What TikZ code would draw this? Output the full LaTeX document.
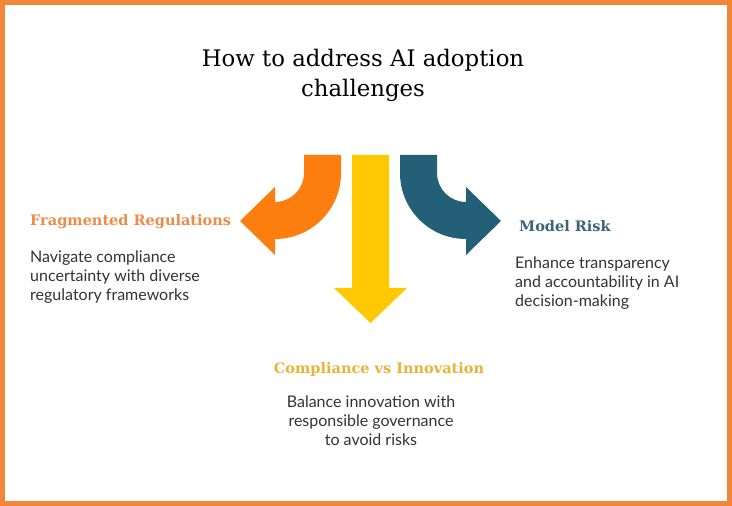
\documentclass[tikz,border=0pt]{standalone}
\usepackage{fontspec}
\setmainfont{DejaVu Serif}
\newfontfamily\bodyfont{Lato}
\usetikzlibrary{positioning}

\definecolor{frameorange}{HTML}{F2873A}
\definecolor{arroworange}{HTML}{FC7E0F}
\definecolor{arrowyellow}{HTML}{FFC800}
\definecolor{arrowblue}{HTML}{245F78}
\definecolor{headorange}{HTML}{EF8C4A}
\definecolor{headyellow}{HTML}{E8B437}
\definecolor{headblue}{HTML}{3B6577}
\definecolor{bodygray}{HTML}{333333}

\tikzset{
  heading/.style={font=\fontsize{14.5}{18}\selectfont\bfseries, inner sep=0pt},
  bodytext/.style={font=\bodyfont\fontsize{16}{19}\selectfont, text=bodygray, inner sep=0pt}
}

\begin{document}
\begin{tikzpicture}[x=1pt,y=1pt]

	% frame
	\useasboundingbox (0,0) rectangle (732,506);
	\fill [white] (0,0) rectangle (732,506);
	\draw [frameorange, line width=5pt] (2.5,2.5) rectangle (729.5,503.5);

	% title
	\node (title) [anchor=north, align=center, inner sep=0pt,
		font=\fontsize{22.8}{30}\selectfont] at (363,457)
		{How to address AI adoption\\challenges};

	% arrows
	\fill [arrowyellow] (352,351) -- (352,218) -- (334,218) -- (370.5,183)
		-- (407,218) -- (389,218) -- (389,351) -- cycle;
	\fill [arroworange] (304,351) -- (304,333)
		arc [start angle=0, end angle=-90, radius=29]
		-- (275,319) -- (240,285) -- (275,251) -- (275,267)
		arc [start angle=-90, end angle=0, radius=66]
		-- (341,351) -- cycle;
	\fill [arrowblue] (437,351) -- (437,333)
		arc [start angle=180, end angle=270, radius=29]
		-- (466,319) -- (501,285) -- (466,251) -- (466,267)
		arc [start angle=270, end angle=180, radius=66]
		-- (400,351) -- cycle;

	% labels (base = last line)
	\node (fraghead) [heading, text=headorange, anchor=base west] at (30,280)
		{Fragmented Regulations};
	\node (fragtext) [bodytext, anchor=base west, align=left] at (30,205)
		{Navigate compliance\\uncertainty with diverse\\regulatory frameworks};

	\node (riskhead) [heading, text=headblue, anchor=base west] at (519,274)
		{Model Risk};
	\node (risktext) [bodytext, anchor=base west, align=left] at (515,199)
		{Enhance transparency\\and accountability in AI\\decision-making};

	\node (comphead) [heading, text=headyellow, anchor=base] at (379,132)
		{Compliance vs Innovation};
	\node (comptext) [bodytext, anchor=base, align=center] at (371,60)
		{Balance innovation with\\responsible governance\\to avoid risks};

\end{tikzpicture}
\end{document}
